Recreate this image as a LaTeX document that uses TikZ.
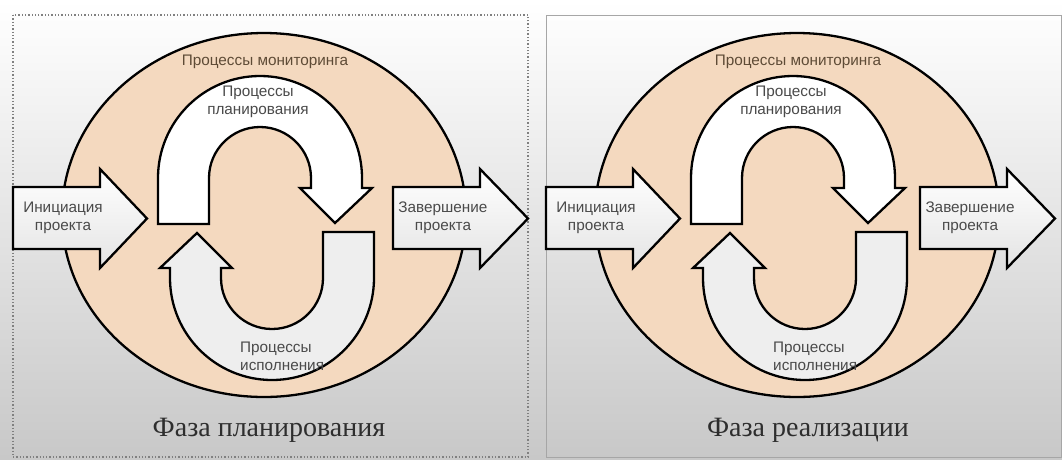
\documentclass[tikz,border=0pt]{standalone}
\usepackage{fontspec}
\setmainfont{Liberation Serif}
\newfontfamily\lsans{Liberation Sans}
\definecolor{peach}{HTML}{F4D9BF}
\definecolor{lblc}{HTML}{4A4A4A}
\definecolor{monc}{HTML}{5E4B36}
\definecolor{bggray}{HTML}{C8C8C8}
\definecolor{ttlc}{HTML}{2E2E2E}
\definecolor{lowfill}{HTML}{EEEEEE}
\definecolor{sidebot}{HTML}{E4E4E4}
\tikzset{
  blk/.style={draw=black, line width=2.3pt, line join=miter},
  lab/.style={font=\lsans\fontsize{15.3}{18}\selectfont, text=lblc, align=center, inner sep=0pt},
  monlab/.style={font=\lsans\fontsize{15.3}{18}\selectfont, text=monc, inner sep=0pt},
  ttl/.style={font=\fontsize{28}{32}\selectfont, text=ttlc, inner sep=0pt},
  sidearrow/.style={blk, top color=white, bottom color=sidebot}
}
\newcommand{\phasepanel}[3]{%
\begin{scope}[xshift=#1pt, name prefix=#3-]
  \draw[blk, fill=peach] (264,215) ellipse [x radius=202pt, y radius=182pt];
  % left arrow
  \draw[sidearrow] (13,187) -- (100,187) -- (100,169) -- (147,218.5) -- (100,268) -- (100,249) -- (13,249) -- cycle;
  \node[lab] (init) at (63,218) {Инициация\\проекта};
  % right arrow
  \begin{scope}[xshift=#2pt]
    \draw[sidearrow] (393,187) -- (480,187) -- (480,169) -- (528,218.5) -- (480,268) -- (480,249) -- (393,249) -- cycle;
    \node[lab] (fin) at (443,218) {Завершение\\проекта};
  \end{scope}
  % upper U arrow
  \draw[blk, fill=white] (158,224) -- (158,178) arc[start angle=180, end angle=0, radius=102pt]
     -- (362,188) -- (372,188) -- (335,223) -- (300,188) -- (311,188) -- (311,178)
     arc[start angle=0, end angle=180, radius=51pt] -- (209,224) -- cycle;
  % lower U arrow (rotated copy)
  \begin{scope}[rotate around={180:(266,228)}]
  \draw[blk, fill=lowfill] (158,224) -- (158,178) arc[start angle=180, end angle=0, radius=102pt]
     -- (362,188) -- (372,188) -- (335,223) -- (300,188) -- (311,188) -- (311,178)
     arc[start angle=0, end angle=180, radius=51pt] -- (209,224) -- cycle;
  \end{scope}
  \node[monlab] (mon) at (265,62) {Процессы мониторинга};
  \node[lab] (plan) at (258,102) {Процессы\\планирования};
  \node[lab, align=left, anchor=west] (exec) at (240,356.5) {Процессы\\исполнения};
\end{scope}}
\begin{document}
\begin{tikzpicture}[x=1pt, y=-1pt]
  \useasboundingbox (0,0) rectangle (1062,459);
  \shade[top color=white, middle color=white, bottom color=bggray] (0,0) rectangle (1062,459);
  \draw[draw=gray, dotted, line width=1.3pt] (13,15) rectangle (528,457);
  \draw[draw=black!35, line width=1pt] (546,15) rectangle (1061,457);
  \phasepanel{0}{0}{L}
  \phasepanel{533}{-6}{R}
  \node[ttl] (title1) at (269,430) {Фаза планирования};
  \node[ttl] (title2) at (808,430) {Фаза реализации};
\end{tikzpicture}
\end{document}
